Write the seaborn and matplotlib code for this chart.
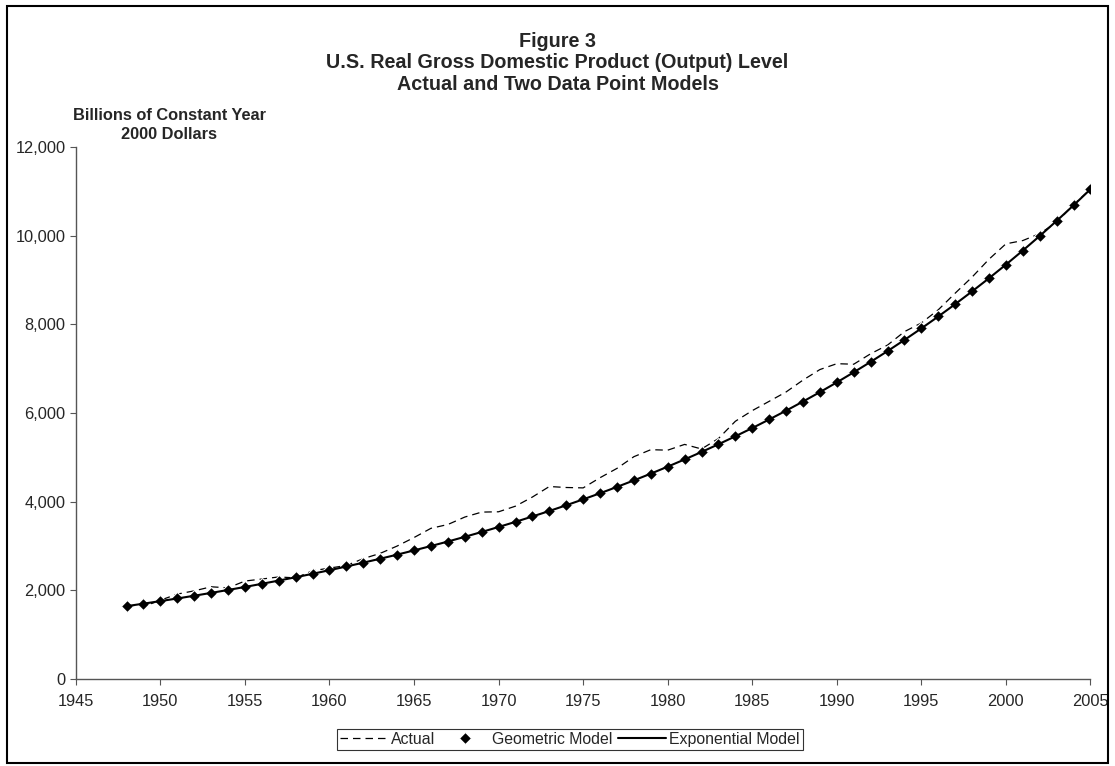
import pandas as pd
import matplotlib.pyplot as plt
import seaborn as sns
from matplotlib.patches import Rectangle

# Data: real GDP, billions of chained 2000 dollars
years = list(range(1948, 2006))
actual = [1643, 1634, 1777, 1915, 1988, 2080, 2056, 2209, 2255, 2302,
          2280, 2441, 2502, 2560, 2715, 2834, 2999, 3191, 3399, 3485,
          3653, 3765, 3772, 3899, 4105, 4342, 4320, 4311, 4541, 4751,
          5015, 5173, 5162, 5292, 5189, 5424, 5814, 6054, 6264, 6475,
          6743, 6981, 7113, 7101, 7337, 7533, 7836, 8032, 8329, 8704,
          9067, 9470, 9817, 9891, 10049, 10301, 10704, 11049]
geometric = [1643, 1699, 1757, 1816, 1878, 1942, 2008, 2076, 2147, 2220,
             2295, 2373, 2454, 2538, 2624, 2713, 2805, 2901, 2999, 3101,
             3207, 3316, 3429, 3545, 3666, 3790, 3919, 4052, 4190, 4333,
             4480, 4632, 4790, 4953, 5121, 5295, 5475, 5661, 5854, 6053,
             6259, 6471, 6691, 6919, 7154, 7397, 7649, 7909, 8178, 8456,
             8744, 9041, 9348, 9666, 9995, 10335, 10686, 11049]
exponential = list(geometric)

df = pd.DataFrame({"Year": years, "Actual": actual,
                   "Geometric": geometric, "Exponential": exponential})

sns.set_style("white")
plt.rcParams["font.family"] = ["Liberation Sans", "DejaVu Sans"]

fig = plt.figure(figsize=(11.15, 7.66), dpi=100)
ax = fig.add_axes([0.068, 0.1136, 0.91, 0.6944])

sns.lineplot(data=df, x="Year", y="Actual", ax=ax, color="black",
             linestyle=(0, (6, 4)), linewidth=0.9, label="Actual")
sns.lineplot(data=df, x="Year", y="Geometric", ax=ax, color="black",
             linestyle="none", marker="D", markersize=6.5,
             label="Geometric Model")
sns.lineplot(data=df, x="Year", y="Exponential", ax=ax, color="black",
             linewidth=1.5, label="Exponential Model")

ax.set_xlim(1945, 2005)
ax.set_ylim(0, 12000)
ax.set_xticks(range(1945, 2006, 5))
ax.set_yticks(range(0, 12001, 2000))
ax.set_yticklabels([f"{v:,}" for v in range(0, 12001, 2000)])
ax.set_xlabel("")
ax.set_ylabel("")
ax.tick_params(axis="both", labelsize=11.8, direction="out", length=4,
               width=0.8, color="#555555", bottom=True, left=True)
ax.tick_params(axis="x", pad=7)
for side in ["top", "right"]:
    ax.spines[side].set_visible(False)
for side in ["left", "bottom"]:
    ax.spines[side].set_color("#555555")
    ax.spines[side].set_linewidth(1.0)

fig.text(0.5, 0.918, "Figure 3\nU.S. Real Gross Domestic Product (Output) Level\n"
         "Actual and Two Data Point Models", ha="center", va="center",
         fontsize=14.2, fontweight="bold", linespacing=1.17)
fig.text(0.152, 0.837, "Billions of Constant Year\n2000 Dollars", ha="center",
         va="center", fontsize=11.8, fontweight="bold", linespacing=1.38)

leg = ax.legend(loc="center", bbox_to_anchor=(0.511, 0.035),
                bbox_transform=fig.transFigure, ncol=3, fontsize=11.4,
                frameon=True, fancybox=False, handlelength=3.0,
                columnspacing=0.4, handletextpad=0.2, borderpad=0.2,
                borderaxespad=0)
leg.get_frame().set_edgecolor("black")
leg.get_frame().set_linewidth(0.8)

fig.patches.append(Rectangle((0.006, 0.004), 0.988, 0.988, transform=fig.transFigure,
                             fill=False, edgecolor="black", linewidth=1.5))

fig.savefig("out.png", dpi=100)
